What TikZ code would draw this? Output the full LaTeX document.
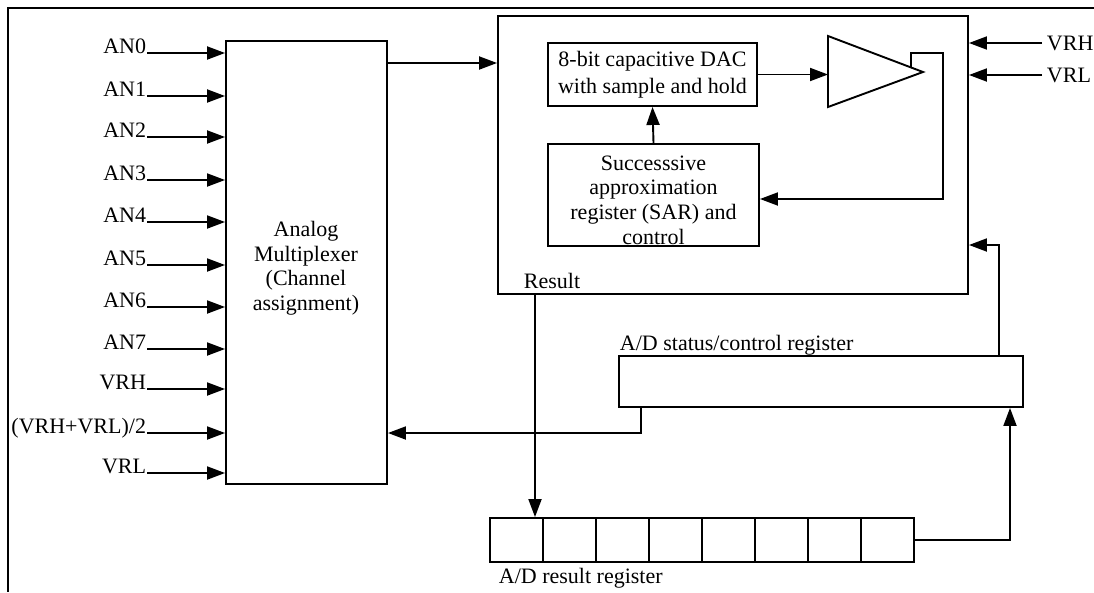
\documentclass[tikz,border=0pt]{standalone}
\usepackage{fontspec}
\setmainfont{Liberation Serif}
\usetikzlibrary{arrows.meta}
\begin{document}
\begin{tikzpicture}[x=1pt,y=-1pt,line width=1.9pt,
  every node/.style={font=\fontsize{22}{25}\selectfont,inner sep=0pt},
  box/.style={draw,rectangle,align=center},
  cell/.style={draw,rectangle,minimum width=53pt,minimum height=44pt},
  arr/.style={-{Triangle[length=18pt,width=13pt]}},
  inlbl/.style={anchor=base east},
  tlbl/.style={anchor=base west}]
\useasboundingbox (0,0) rectangle (1094,592);
% outer frame (cut at right and bottom)
\draw (1094,8) -- (8,8) -- (8,592);

% boxes
\node[box,minimum width=161pt,minimum height=443pt] (mux) at (306.5,262.5) {};
\node[align=center,font=\fontsize{22}{24.5}\selectfont] (muxtxt) at (306,268) {Analog\\Multiplexer\\(Channel\\assignment)};
\node[box,minimum width=470pt,minimum height=278pt] (adc) at (733,155) {};
\node[box,minimum width=209pt,minimum height=63pt,font=\fontsize{22}{27}\selectfont] (dac) at (652.5,74.5) {8-bit capacitive DAC\\with sample and hold};
\node[box,minimum width=211pt,minimum height=102pt] (sar) at (653.5,195) {};
\node[align=center,font=\fontsize{22}{24.7}\selectfont] (sartxt) at (653.5,200) {Successsive\\approximation\\register (SAR) and\\control};
\node[box,minimum width=404pt,minimum height=51pt] (stat) at (821,381.5) {};
\node[tlbl] (statlbl) at (619,350) {A/D status/control register};
\node[tlbl] (reslbl) at (523,288) {Result};

% result register cells
\foreach \i in {1,...,8} {
  \node[cell] (r\i) at ({490+53*(\i-0.5)},540) {};
}
\node[tlbl] (rrlbl) at (498,583) {A/D result register};

% comparator
\coordinate (cmpT) at (828,36);
\coordinate (cmpB) at (828,107);
\coordinate (cmpTip) at (923,72);
\coordinate (cmpIn) at (828,74.5);
\draw[line join=miter] (cmpT) -- (cmpTip) -- (cmpB) -- cycle;

% inputs to mux
\node[inlbl] (in0) at (147,53) {AN0};
\node[inlbl] (in1) at (147,96) {AN1};
\node[inlbl] (in2) at (147,137) {AN2};
\node[inlbl] (in3) at (147,180) {AN3};
\node[inlbl] (in4) at (147,222) {AN4};
\node[inlbl] (in5) at (147,265) {AN5};
\node[inlbl] (in6) at (147,307) {AN6};
\node[inlbl] (in7) at (147,349) {AN7};
\node[inlbl] (in8) at (147,389) {VRH};
\node[inlbl] (in9) at (147,433) {(VRH+VRL)/2};
\node[inlbl] (in10) at (147,473) {VRL};
\foreach \i in {0,...,10} {
  \draw[arr] (in\i.base east) -- (mux.west |- in\i.base east);
}

% mux -> adc
\coordinate (m1) at (387,63);
\draw[arr] (mux.east |- m1) -- (adc.west |- m1);

% dac -> comparator
\draw[arr] (dac.east) -- (cmpIn);
% sar -> dac
\draw[arr] (sar.north) -- (dac.south);
% comparator -> sar feedback
\coordinate (fb0) at (911,67.5);
\coordinate (fb1) at (911,53);
\coordinate (fb2) at (943,53);
\coordinate (fb3) at (943,199);
\draw[arr] (fb0) -- (fb1) -- (fb2) -- (fb3) -- (sar.east |- fb3);

% VRH / VRL references
\coordinate (vrh) at (1042,43);
\coordinate (vrl) at (1042,75);
\draw[arr] (vrh) -- (adc.east |- vrh);
\draw[arr] (vrl) -- (adc.east |- vrl);
\node[anchor=west] (vrhlbl) at (1046,43) {VRH};
\node[anchor=west] (vrllbl) at (1046,75) {VRL};

% status -> adc
\coordinate (s1) at (999,245);
\draw[arr] (stat.north -| s1) -- (s1) -- (adc.east |- s1);
% status -> mux
\coordinate (s2) at (641,433);
\draw[arr] (stat.south -| s2) -- (s2) -- (mux.east |- s2);
% result -> result register
\coordinate (rs) at (535,0);
\draw[arr] (adc.south -| rs) -- (r1.north -| rs);
% result register -> status
\coordinate (rr) at (1010,540);
\draw[arr] (r8.east) -- (rr) -- (stat.south -| rr);
\end{tikzpicture}
\end{document}
